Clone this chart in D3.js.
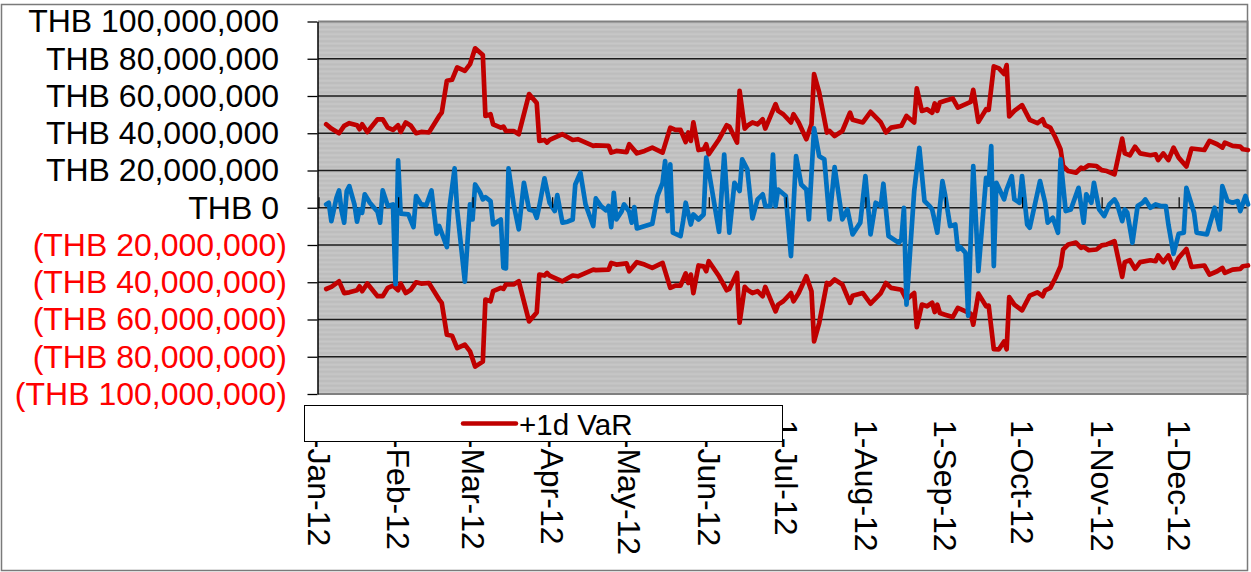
<!DOCTYPE html>
<html>
<head>
<meta charset="utf-8">
<script src="https://cdn.jsdelivr.net/npm/d3@7"></script>
<style>
  html, body { margin: 0; padding: 0; background: #fff; }
  svg { display: block; font-family: "Liberation Sans", Arial, sans-serif; }
</style>
</head>
<body>
<svg id="chart" width="1251" height="572"></svg>
<script>
// values are in millions of THB, days are counted from 1 Jan 2012
const varDays = [
  3, 5, 8, 10, 12, 15, 16, 17, 19, 23,
  25, 27, 29, 31, 32, 34, 36, 38, 40, 43,
  45, 47, 48, 50, 52, 54, 57, 59, 61, 64,
  65, 67, 68, 71, 72, 73, 76, 78, 82, 85,
  86, 88, 89, 90, 95, 99, 101, 107, 108, 113,
  114, 116, 120, 121, 124, 127, 130, 134, 137, 139,
  141, 143, 144, 145, 146, 148, 150, 151, 152, 156,
  159, 160, 163, 164, 166, 167, 169, 171, 173, 174,
  178, 179, 181, 184, 185, 187, 190, 192, 193, 195,
  198, 199, 201, 204, 207, 208, 212, 215, 219, 221,
  223, 227, 229, 232, 233, 235, 237, 239, 240, 241,
  242, 244, 247, 249, 254, 255, 257, 260, 261, 263,
  265, 267, 268, 269, 271, 274, 277, 280, 282, 283,
  285, 287, 289, 290, 292, 295, 297, 298, 300, 303,
  305, 307, 310, 313, 314, 316, 318, 320, 324, 326,
  327, 329, 331, 333, 335, 338, 340, 345, 347, 350,
  352, 353, 356, 359, 360, 362
];
const varUpper = [
  44.8, 42.5, 40, 44, 45.4, 44.3, 42.2, 44.8, 40.7, 47.5,
  47.5, 43, 41.8, 44.3, 40.7, 45.8, 44, 40, 40.7, 40.4,
  44.8, 49.3, 51.1, 68.2, 68.7, 75.4, 73.5, 77.1, 85.6, 82,
  49.3, 50.2, 44.8, 43, 43.6, 41.2, 41.2, 39.5, 61, 56.2,
  35.9, 36.4, 35, 36.4, 39.5, 36.4, 36.8, 33.2, 33.5, 33.2,
  29.6, 30.5, 29.9, 34.1, 29.2, 30.5, 32.3, 29.6, 43, 41.8,
  41.8, 35.3, 40.4, 35.9, 45.8, 31, 31.4, 34.1, 28.7, 36.8,
  44.3, 43.6, 35, 62.8, 42.5, 44, 45.8, 44.8, 47.5, 42.5,
  55.6, 52, 50.2, 45.8, 50.2, 45.8, 36.8, 44.8, 71.8, 61.9,
  40.4, 41.2, 38.5, 41.2, 51.1, 47.2, 45.8, 51.5, 45.8, 40.4,
  43, 44, 49.3, 45.8, 64.1, 52, 52.9, 51, 56, 52,
  56.5, 57.4, 58.7, 53.8, 56.8, 63.3, 46.1, 52.9, 52.5, 75.9,
  74.8, 71.8, 76.6, 49, 52, 55.1, 47.2, 45.4, 47.5, 44.3,
  43, 37.7, 31.4, 22.4, 19.7, 18.8, 21.5, 21, 22.8, 22.4,
  20.2, 19.7, 17.9, 37.1, 29.2, 28.2, 32.8, 29.2, 28.2, 28.7,
  25.6, 29.2, 25.6, 32.3, 26.9, 22.1, 31.8, 31, 35.9, 34.1,
  32.3, 35, 33.2, 32.8, 31.4, 31
];
const varLower = [
  -43.6, -42.5, -39.5, -45.8, -45.4, -44.3, -42.2, -44.8, -40.7, -47.5,
  -47.5, -43, -41.8, -44.3, -40.7, -45.8, -44, -40, -40.7, -40.4,
  -44.8, -49.3, -51.1, -68.2, -68.7, -75.4, -73.5, -77.1, -85.3, -82.6,
  -49.3, -50.2, -44.8, -43, -43.6, -41.2, -41.2, -39.5, -61, -56.2,
  -35.9, -36.4, -35, -36.4, -39.5, -36.4, -36.8, -33.2, -33.5, -33.2,
  -29.6, -30.5, -29.9, -34.1, -29.2, -30.5, -32.3, -29.6, -43, -41.8,
  -41.8, -35.3, -40.4, -35.9, -45.8, -31, -31.4, -34.1, -28.7, -36.8,
  -44.3, -43.6, -35, -61.7, -42.5, -44, -45.8, -44.8, -47.5, -42.5,
  -55.6, -52, -50.2, -45.8, -50.2, -45.8, -36.8, -44.8, -71.8, -61.9,
  -40.4, -41.2, -38.5, -41.2, -51.1, -47.2, -45.8, -51.5, -45.8, -40.4,
  -43, -44, -49.3, -45.8, -64.1, -52, -52.9, -51, -56, -52,
  -56.5, -57.4, -58.7, -53.8, -56.8, -62.8, -46.1, -52.9, -52.5, -75.9,
  -76, -71.8, -76, -48, -52, -55.1, -47.2, -45.4, -47.5, -44.3,
  -43, -37.7, -31.4, -22.4, -19.7, -18.7, -21.5, -21, -22.8, -22.4,
  -20.2, -19.7, -17.9, -37.1, -29.2, -28.2, -32.8, -29.2, -28.2, -28.7,
  -25.6, -29.2, -25.6, -32.3, -26.9, -22.1, -31.8, -31, -35.9, -34.1,
  -32.3, -35, -33.2, -32.8, -31.4, -31
];

const pnlDays = [
  3, 4, 5, 7, 8, 9, 10, 11, 12, 14,
  15, 16, 17, 18, 20, 23, 24, 25, 27, 29,
  30, 31, 32, 35, 37, 38, 40, 42, 44, 46,
  47, 50, 51, 53, 54, 57, 59, 60, 61, 63,
  64, 65, 67, 68, 69, 71, 72, 73, 74, 76,
  78, 80, 82, 84, 85, 86, 88, 90, 92, 93,
  95, 97, 99, 100, 102, 104, 107, 108, 110, 112,
  113, 114, 115, 116, 118, 119, 121, 122, 123, 124,
  130, 132, 134, 135, 136, 137, 138, 141, 142, 143,
  145, 146, 148, 150, 151, 152, 156, 158, 160, 162,
  164, 165, 167, 169, 171, 173, 174, 176, 177, 178,
  179, 182, 184, 186, 188, 190, 191, 193, 195, 197,
  199, 201, 204, 206, 208, 211, 213, 215, 217, 219,
  220, 222, 226, 227, 228, 229, 232, 234, 236, 238,
  239, 241, 243, 244, 246, 248, 249, 250, 252, 253,
  255, 257, 260, 261, 262, 263, 264, 267, 268, 270,
  271, 273, 274, 276, 277, 279, 281, 283, 284, 286,
  288, 289, 291, 293, 296, 298, 299, 301, 302, 304,
  306, 308, 310, 311, 313, 314, 315, 317, 319, 321,
  322, 324, 326, 328, 330, 331, 333, 335, 337, 338,
  341, 342, 346, 349, 351, 352, 354, 356, 358, 359,
  361, 362
];
const pnlValues = [
  1.8, 2.7, -7.2, 5.4, 9.3, -1.8, -8, 9, 11.6, 1.8,
  -7.5, -0.9, -2.7, 7.2, 2.7, -2.1, -8, 9.3, 0.9, 1.8,
  -41, 25.4, -3.2, -3.6, -10.4, 6.3, 1.8, 1.4, 9.3, -14,
  -9.8, -21.1, 0, 21.1, -0.9, -39.7, 1.8, -6.3, 12.5, 8,
  4.5, 5.7, 3.6, -9, -8, -6.3, -32.2, -32.6, 21.1, 1.8,
  -11.6, 13.4, -0.9, -1.8, -5.4, 0.9, 15.8, 2.7, -1.8, 6.8,
  -8, -7.5, -6.3, 12.5, 18.8, 1.8, -9.8, 5, 0.9, -1.4,
  0.9, -10.4, 8, -6.3, -2.1, 1.8, -2.1, -8, 0.4, -11.1,
  -8.6, 6.3, 13.4, 25.1, -1.8, 23.3, -13.4, -15.2, -7.2, 2.7,
  -9, -3.6, -6.3, -3.6, 26.9, 19.7, -12.9, 28.6, -13.4, 13.4,
  9, 26, 20.6, -5.7, 4.5, 7.2, 0.9, 0.9, 28.6, 0.9,
  9.8, 6.3, -26, 27.7, 12.5, 9.8, -6.3, 42.6, 27.7, 26,
  -6.3, 21.8, -6.3, -0.9, -14.3, -8, 17, -14.3, 2.7, 0.9,
  12.9, -15.2, -18.8, -17, 0, -52, 9, 32.2, 3.6, 0.9,
  -0.9, -13.4, 14.3, 7.2, -9.8, -9, -22.4, -21.1, -24.2, -58,
  22.4, -34, 16.1, 12.5, 33.1, -31.3, 13.4, 4.5, 9.8, 17,
  4.5, 2.7, 17, -9, -10.7, 1.8, 14.3, 2.7, -8, -5.4,
  -13.4, 26, -1.8, -0.9, 10.7, -8, 7.2, 2.7, 13.4, -0.9,
  -4.5, 1.8, 4.5, 2.1, -7.2, -0.9, -2.7, -18.8, 0.9, 2.7,
  4.5, 0, 1.8, 0.9, 0.9, -9, -24.7, -14, -13.4, 10.7,
  -2.7, -13.4, -14.3, 0, -11.6, 11.6, 3.6, 2.7, 3.6, -1.8,
  6.3, 1.8
];

const yTickValues = [100, 80, 60, 40, 20, 0, -20, -40, -60, -80, -100];
const yTickLabels = [
  "THB 100,000,000", "THB 80,000,000", "THB 60,000,000", "THB 40,000,000",
  "THB 20,000,000", "THB 0", "(THB 20,000,000)", "(THB 40,000,000)",
  "(THB 60,000,000)", "(THB 80,000,000)", "(THB 100,000,000)"
];
const monthTicks = [
  "2012-01-01", "2012-02-01", "2012-03-01", "2012-04-01", "2012-05-01", "2012-06-01",
  "2012-07-01", "2012-08-01", "2012-09-01", "2012-10-01", "2012-11-01", "2012-12-01"
];
const monthLabels = [
  "1-Jan-12", "1-Feb-12", "1-Mar-12", "1-Apr-12", "1-May-12", "1-Jun-12",
  "1-Jul-12", "1-Aug-12", "1-Sep-12", "1-Oct-12", "1-Nov-12", "1-Dec-12"
];
const legendLabel = "+1d VaR";

const toDate = d => new Date(2012, 0, 1 + d);
const parse = d3.timeParse("%Y-%m-%d");

const svg = d3.select("#chart");
const plotL = 318, plotR = 1247.5;

const x = d3.scaleTime().domain([toDate(0), toDate(362)]).range([318.5, 1248]);
const y = d3.scaleLinear().domain([-100, 100]).range([394, 21.5]);
const plotT = y(100), plotB = y(-100);

// outer frame
svg.append("rect").attr("x", 1.5).attr("y", 4.5).attr("width", 1246).attr("height", 566)
  .attr("fill", "#fff").attr("stroke", "#7a7a7a").attr("stroke-width", 1.5);

// striped grey plot background
const defs = svg.append("defs");
const stripeH = (y(0) - y(20)) / 8;
const pat = defs.append("pattern").attr("id", "stripes").attr("patternUnits", "userSpaceOnUse")
  .attr("x", 0).attr("y", plotT).attr("width", 8).attr("height", stripeH);
pat.append("rect").attr("width", 8).attr("height", stripeH).attr("fill", "#bdbdbd");
pat.append("rect").attr("y", stripeH * 0.5).attr("width", 8).attr("height", stripeH * 0.45).attr("fill", "#c7c7c7");

svg.append("rect").attr("x", plotL).attr("y", plotT).attr("width", plotR - plotL).attr("height", plotB - plotT)
  .attr("fill", "url(#stripes)");

// horizontal gridlines
svg.append("g").selectAll("line").data(yTickValues.filter(v => Math.abs(v) < 100)).join("line")
  .attr("x1", plotL).attr("x2", plotR)
  .attr("y1", d => y(d)).attr("y2", d => y(d))
  .attr("stroke", "#1c1c1c").attr("stroke-width", 1.3);

// plot frame (top, right, bottom)
svg.append("path")
  .attr("d", `M${plotL},${plotT}H${plotR}V${plotB}H${plotL}`)
  .attr("fill", "none").attr("stroke", "#808080").attr("stroke-width", 2);

// series
const line = d3.line().x(d => x(d.date)).y(d => y(d.value));
const upper = varDays.map((d, i) => ({date: toDate(d), value: varUpper[i]}));
const lower = varDays.map((d, i) => ({date: toDate(d), value: varLower[i]}));
const pnl = pnlDays.map((d, i) => ({date: toDate(d), value: pnlValues[i]}));

[upper, lower].forEach(s => {
  svg.append("path").datum(s).attr("d", line)
    .attr("fill", "none").attr("stroke", "#c00000").attr("stroke-width", 4.7)
    .attr("stroke-linejoin", "round").attr("stroke-linecap", "round");
});
svg.append("path").datum(pnl).attr("d", line)
  .attr("fill", "none").attr("stroke", "#0070c0").attr("stroke-width", 4.7)
  .attr("stroke-linejoin", "round").attr("stroke-linecap", "round");

// y axis
const yAxis = svg.append("g").attr("transform", "translate(317.5,0)")
  .call(d3.axisLeft(y).tickValues(yTickValues).tickFormat((d, i) => yTickLabels[i])
    .tickSize(10).tickSizeOuter(0).tickPadding(20.5));
yAxis.select(".domain").attr("stroke", "#000").attr("stroke-width", 1.5);
yAxis.selectAll(".tick line").attr("stroke", "#000").attr("stroke-width", 1.3);
yAxis.selectAll(".tick text")
  .attr("font-size", 32).attr("font-family", "Liberation Sans, Arial, sans-serif")
  .attr("fill", d => d < 0 ? "#ff0000" : "#000")
  .attr("dx", d => d < 0 ? 0 : -8);

// x axis on the zero line, labels hang below the plot
const y0 = y(0);
const xAxis = svg.append("g").attr("transform", `translate(0,${y0})`)
  .call(d3.axisBottom(x).tickValues(monthTicks.map(parse)).tickFormat((d, i) => monthLabels[i])
    .tickSizeInner(-10.5).tickSizeOuter(0));
xAxis.select(".domain").remove();
xAxis.selectAll(".tick line").attr("stroke", "#000").attr("stroke-width", 1.2);
xAxis.selectAll(".tick text")
  .attr("font-size", 32).attr("font-family", "Liberation Sans, Arial, sans-serif")
  .attr("fill", "#000")
  .attr("x", 0).attr("y", 0).attr("dy", "0.35em")
  .attr("text-anchor", "start")
  .attr("transform", `translate(0,${420 - y0}) rotate(90)`);

// legend box
const lg = svg.append("g");
lg.append("rect").attr("x", 304.5).attr("y", 405.5).attr("width", 478).attr("height", 36)
  .attr("fill", "#fff").attr("stroke", "#000").attr("stroke-width", 1);
lg.append("line").attr("x1", 463).attr("x2", 516).attr("y1", 423.5).attr("y2", 423.5)
  .attr("stroke", "#c00000").attr("stroke-width", 4.5).attr("stroke-linecap", "round");
lg.append("text").attr("x", 519).attr("y", 434.5).attr("font-size", 29.5).attr("fill", "#000")
  .text(legendLabel);
</script>
</body>
</html>
